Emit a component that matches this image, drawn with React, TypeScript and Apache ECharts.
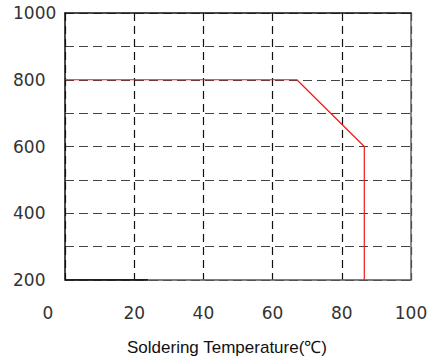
import React, { useEffect, useRef } from "react";
import * as echarts from "echarts";

const deratingCurve: [number, number][] = [
  [0, 800],
  [67, 800],
  [86.5, 600],
  [86.5, 200],
];
const baseStroke: [number, number][] = [
  [0, 200],
  [24, 200],
];
const xTicks = [0, 20, 40, 60, 80, 100];
const yTicks = [200, 400, 600, 800, 1000];
const xTitle = "Soldering Temperature(℃)";

export default function App() {
  const ref = useRef<HTMLDivElement>(null);
  useEffect(() => {
    document.body.style.margin = "0";
    if (!ref.current) return;
    const chart = echarts.init(ref.current, null, { renderer: "svg" });
    const labelFont = { fontFamily: "DejaVu Sans", fontSize: 17, color: "#333" };
    chart.setOption({
      animation: false,
      grid: { left: 65, right: 23, top: 13, bottom: 80, containLabel: false },
      xAxis: [
        {
          type: "value",
          min: 0,
          max: 100,
          interval: 10,
          axisLine: { show: true, onZero: false, lineStyle: { color: "#555", width: 1.5 } },
          axisTick: { show: false },
          splitLine: { show: false },
          axisLabel: {
            ...labelFont,
            margin: 24,
            showMinLabel: true,
            showMaxLabel: true,
            formatter: (v: number) =>
              xTicks.includes(v) ? (v === 0 ? "{zero|0}" : String(v)) : "",
            rich: { zero: { ...labelFont, padding: [0, 34, 0, 0] } },
          },
        },
        {
          type: "value",
          position: "top",
          min: 0,
          max: 100,
          interval: 20,
          axisLine: { show: true, onZero: false, lineStyle: { color: "#111", width: 1.5 } },
          axisTick: { show: false },
          axisLabel: { show: false },
          splitLine: { show: true, lineStyle: { color: "#111", type: [8, 5], width: 1.2 } },
        },
      ],
      yAxis: [
        {
          type: "value",
          min: 200,
          max: 1000,
          interval: 100,
          axisLine: { show: true, onZero: false, lineStyle: { color: "#111", width: 1.5 } },
          axisTick: { show: false },
          splitLine: { show: true, lineStyle: { color: "#444", type: [9, 5], width: 1.2 } },
          axisLabel: {
            ...labelFont,
            align: "left",
            margin: 52,
            formatter: (v: number) => (yTicks.includes(v) ? String(v) : ""),
          },
        },
        {
          type: "value",
          position: "right",
          min: 200,
          max: 1000,
          interval: 100,
          axisLine: { show: true, onZero: false, lineStyle: { color: "#666", width: 1.5 } },
          axisTick: { show: false },
          axisLabel: { show: false },
          splitLine: { show: false },
        },
      ],
      series: [
        {
          type: "line",
          data: baseStroke,
          symbol: "none",
          lineStyle: { color: "#000", width: 1.5 },
          z: 5,
        },
        {
          type: "line",
          data: deratingCurve,
          symbol: "none",
          lineStyle: { color: "#f01818", width: 1.2 },
          z: 6,
        },
      ],
      graphic: [
        {
          type: "text",
          x: 227,
          y: 347,
          style: {
            text: xTitle,
            fontFamily: "Liberation Sans",
            fontSize: 17,
            fill: "#111",
            align: "center",
            verticalAlign: "middle",
          },
        },
      ],
    });
    return () => chart.dispose();
  }, []);
  return <div ref={ref} style={{ width: 434, height: 360 }} />;
}
